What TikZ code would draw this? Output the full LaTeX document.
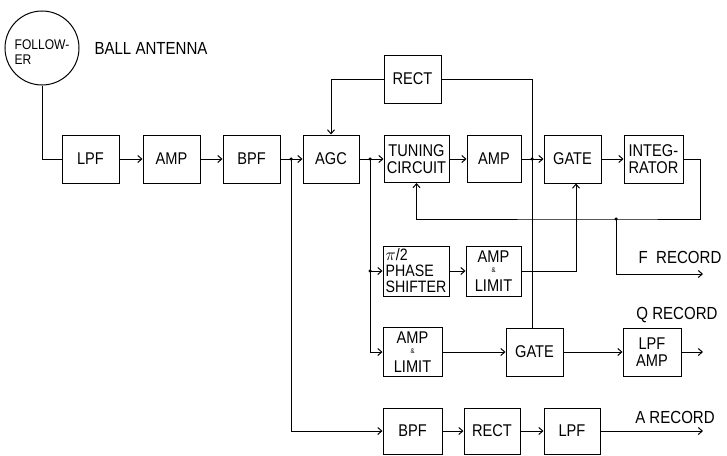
\documentclass[tikz,border=0pt]{standalone}
\usepackage{fontspec}
\newfontfamily\lett[FakeStretch=0.86]{Liberation Sans}
\usetikzlibrary{arrows.meta}
\begin{document}
\begin{tikzpicture}[x=1pt,y=-1pt,
  blk/.style={draw,line width=1pt,minimum width=57pt,minimum height=48pt,inner sep=1pt,align=center,font=\lett\fontsize{17}{17.5}\selectfont},
  wire/.style={line width=1pt},
  arr/.style={wire,-{Straight Barb[length=4pt,width=7pt]}},
  jdot/.style={circle,fill,inner sep=0pt,minimum size=3.5pt},
  lbl/.style={font=\lett\fontsize{17.5}{17}\selectfont,inner sep=0pt}]
\useasboundingbox (0,0) rectangle (727,455);
% follower circle
\node[draw,circle,line width=1pt,minimum size=74pt,inner sep=0pt] (fol) at (42,48) {};
\node[font=\lett\fontsize{14}{14.5}\selectfont,align=left,inner sep=0pt] (foltxt) at (42,52) {FOLLOW-\\ER};
\node[lbl] (ball) at (151,48) {BALL ANTENNA};
% row 1
\node[blk] (lpf1) at (90.5,159) {LPF};
\node[blk] (amp1) at (171.5,159) {AMP};
\node[blk] (bpf1) at (251.5,159) {BPF};
\node[blk,minimum width=56pt] (agc) at (331,159) {AGC};
\node[blk] (rect1) at (412.5,79) {RECT};
\node[blk,minimum width=65pt,minimum height=47pt] (tun) at (416.5,159) {TUNING\\CIRCUIT};
\node[blk,minimum width=54pt,minimum height=47pt] (amp2) at (494,159) {AMP};
\node[blk] (gate1) at (572.5,159) {GATE};
\node[blk,minimum width=59pt,align=left] (int) at (653.5,159) {INTEG-\\RATOR};
% row 2
\node[blk,minimum width=66pt,minimum height=50pt,align=left,font=\lett\fontsize{16.5}{16}\selectfont] (phs) at (416,271) {$\pi$/2\\PHASE\\SHIFTER};
\node[blk,minimum width=55pt,minimum height=50pt] (al1) at (493.5,271) {AMP\\[-8pt]{\fontsize{7}{7}\selectfont\&}\\[1.5pt]LIMIT};
% row 3
\node[blk,minimum width=59pt,minimum height=49pt] (al2) at (412.5,352) {AMP\\[-8pt]{\fontsize{7}{7}\selectfont\&}\\[1.5pt]LIMIT};
\node[blk] (gate2) at (534.5,352) {GATE};
\node[blk,minimum width=58pt] (lpfamp) at (652,352) {LPF\\AMP};
% row 4
\node[blk,minimum width=59pt,minimum height=46pt] (bpf2) at (412.5,431) {BPF};
\node[blk,minimum width=56pt,minimum height=46pt] (rect2) at (492,431) {RECT};
\node[blk,minimum width=56pt,minimum height=46pt] (lpf2) at (572,431) {LPF};
% labels
\node[lbl] (frec) at (680,257) {F\ \ RECORD};
\node[lbl] (qrec) at (677,315) {Q\ RECORD};
\node[lbl] (arec) at (675,417) {A\ RECORD};
% coordinates
\coordinate (j1) at (291,159);
\coordinate (j2) at (370,159);
\coordinate (j2b) at (370,271);
\coordinate (j3) at (532,159);
\coordinate (j4) at (616,219);
\coordinate (fend) at (703,274);
\coordinate (qend) at (703,352);
\coordinate (aend) at (703,431);
% connectors
\draw[wire] (fol.south) |- (lpf1.west);
\draw[arr] (lpf1) -- (amp1);
\draw[arr] (amp1) -- (bpf1);
\draw[arr] (bpf1) -- (agc);
\draw[arr] (j1) |- (bpf2.west);
\draw[arr] (agc) -- (tun);
\draw[arr] (j2) |- (phs.west);
\draw[arr] (j2) |- (al2.west);
\draw[arr] (phs) -- (al1);
\draw[arr] (al1.east) -| ([xshift=3.5pt]gate1.south);
\draw[arr] (tun) -- (amp2);
\draw[arr] (amp2) -- (gate1);
\draw[arr] (gate1) -- (int);
\draw[arr] (int.east) -- ++(17,0) |- (j4) -| (tun.south);
\draw[arr] (j4) |- (fend);
\draw[arr] (rect1.west) -| (agc.north);
\draw[wire] (rect1.east) -| ([xshift=-2.5pt]gate2.north);
\draw[arr] (al2) -- (gate2);
\draw[arr] (gate2) -- (lpfamp);
\draw[arr] (lpfamp) -- (qend);
\draw[arr] (bpf2) -- (rect2);
\draw[arr] (rect2) -- (lpf2);
\draw[arr] (lpf2) -- (aend);
% junction dots
\node[jdot] (d1) at (j1) {};
\node[jdot] (d2) at (j2) {};
\node[jdot] (d3) at (j2b) {};
\node[jdot] (d4) at (j3) {};
\node[jdot] (d5) at (j4) {};
\end{tikzpicture}
\end{document}
